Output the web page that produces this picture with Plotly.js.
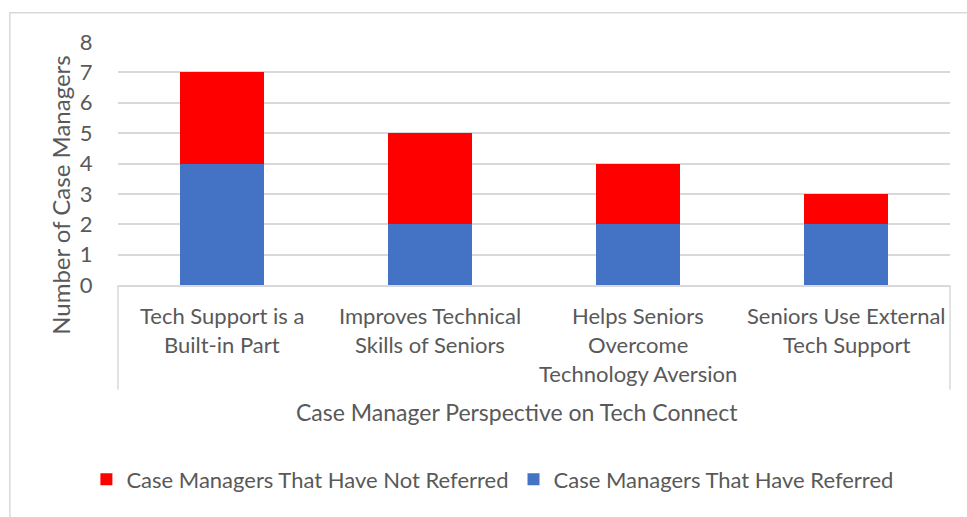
<!DOCTYPE html>
<html>
<head>
<meta charset="utf-8">
<script src="https://cdn.plot.ly/plotly-3.0.1.min.js"></script>
<style>
html,body{margin:0;padding:0;background:#fff;}
#chart{width:967px;height:517px;}
</style>
</head>
<body>
<div id="chart"></div>
<script>
// ---- data ----
var categories = [
  "Tech Support is a Built-in Part",
  "Improves Technical Skills of Seniors",
  "Helps Seniors Overcome Technology Aversion",
  "Seniors Use External Tech Support"
];
var categoryLines = [
  ["Tech Support is a", "Built-in Part"],
  ["Improves Technical", "Skills of Seniors"],
  ["Helps Seniors", "Overcome", "Technology Aversion"],
  ["Seniors Use External", "Tech Support"]
];
var referred = [4, 2, 2, 2];
var notReferred = [3, 3, 2, 1];
var seriesNames = ["Case Managers That Have Referred", "Case Managers That Have Not Referred"];
var yTicks = [0, 1, 2, 3, 4, 5, 6, 7, 8];
var xTitle = "Case Manager Perspective on Tech Connect";
var yTitle = "Number of Case Managers";

// ---- styles ----
var FONT = "Lato, 'Open Sans', sans-serif";
var TXT = "#595959";
var GRID = "#d9d9d9";

var traces = [
  {type: "bar", name: seriesNames[0], x: categories, y: referred,
   marker: {color: "#4472C4"}, hoverinfo: "x+y+name"},
  {type: "bar", name: seriesNames[1], x: categories, y: notReferred,
   marker: {color: "#FF0000"}, hoverinfo: "x+y+name"}
];

var annotations = [];
categoryLines.forEach(function (lines, ci) {
  lines.forEach(function (ln, li) {
    annotations.push({
      xref: "x", yref: "paper", x: categories[ci], y: 0,
      yanchor: "middle", xanchor: "center",
      yshift: -30 - li * 29,
      text: ln, showarrow: false,
      font: {family: FONT, size: 22, color: TXT}
    });
  });
});
annotations.push({
  xref: "paper", yref: "paper", x: 0.479, y: 0, yshift: -127,
  yanchor: "middle", xanchor: "center", text: xTitle, showarrow: false,
  font: {family: FONT, size: 23, color: TXT}
});
annotations.push({
  xref: "paper", yref: "paper", x: -0.07, y: 0.37,
  xanchor: "center", yanchor: "middle", textangle: -90, text: yTitle, showarrow: false,
  font: {family: FONT, size: 24, color: TXT}
});

var shapes = [
  // outer chart border (left + top visible)
  {type: "rect", xref: "paper", yref: "paper", x0: -0.13, x1: 1.1, y0: -1.2, y1: 1.12,
   line: {color: "#d9d9d9", width: 1.5}, fillcolor: "rgba(0,0,0,0)", layer: "below"},
  // category-axis boundary lines
  {type: "line", xref: "paper", yref: "paper", x0: 0, x1: 0, y0: 0, y1: -0.43,
   line: {color: GRID, width: 1.5}},
  {type: "line", xref: "paper", yref: "paper", x0: 1, x1: 1, y0: 0, y1: -0.43,
   line: {color: GRID, width: 1.5}}
];

var layout = {
  width: 967, height: 517,
  margin: {l: 118, r: 17, t: 42, b: 232, autoexpand: false},
  paper_bgcolor: "#ffffff", plot_bgcolor: "#ffffff",
  barmode: "stack", bargap: 0.595,
  showlegend: true,
  legend: {orientation: "h", x: 0.450, xanchor: "center", y: -0.80, yanchor: "middle",
           traceorder: "reversed", itemwidth: 30, tracegroupgap: 0,
           font: {family: FONT, size: 22, color: TXT}},
  xaxis: {type: "category", showticklabels: false, ticks: "", showgrid: false,
          showline: true, linecolor: GRID, linewidth: 1.5, zeroline: false, fixedrange: true},
  yaxis: {range: [0, 8], tickmode: "array", tickvals: yTicks, ticktext: yTicks.map(String),
          showgrid: true, gridcolor: GRID, gridwidth: 1.5, zeroline: false,
          showline: false, ticks: "outside", ticklen: 20, tickcolor: "rgba(0,0,0,0)",
          tickfont: {family: FONT, size: 22, color: TXT}, fixedrange: true},
  annotations: annotations,
  shapes: shapes
};

Plotly.newPlot("chart", traces, layout, {displayModeBar: false, staticPlot: false});
</script>
</body>
</html>
